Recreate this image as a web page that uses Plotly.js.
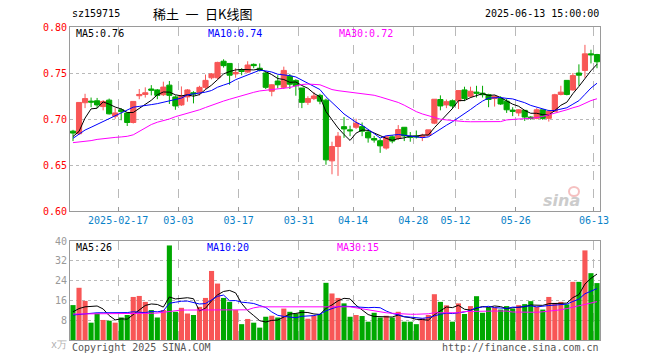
<!DOCTYPE html>
<html>
<head>
<meta charset="utf-8">
<script src="https://cdn.plot.ly/plotly-3.0.1.min.js"></script>
<style>html,body{margin:0;padding:0;background:#fff;}#chart{width:660px;height:360px;}</style>
</head>
<body>
<div id="chart"></div>
<script>
// ---- data ----
var dateLabels = ['2025-02-17','03-03','03-17','03-31','04-14','04-28','05-12','05-26','06-13'];
var dateLabelIdx = [8, 18, 28, 38, 47, 57, 64, 74, 87];

var openP = [0.6868,0.6840,0.7177,0.7194,0.7198,0.7135,0.7205,0.7031,0.7100,0.7066,
  0.6962,0.7253,0.7267,0.7326,0.7316,0.7264,0.7368,0.7240,0.7153,0.7240,
  0.7285,0.7285,0.7344,0.7448,0.7448,0.7628,0.7604,0.7490,0.7531,0.7510,
  0.7594,0.7552,0.7500,0.7302,0.7413,0.7344,0.7465,0.7420,0.7337,0.7181,
  0.7222,0.7257,0.7205,0.6545,0.6701,0.6917,0.6882,0.6910,0.6917,0.6858,
  0.6788,0.6764,0.6684,0.6806,0.6788,0.6910,0.6813,0.6816,0.6802,0.6823,
  0.6955,0.7212,0.7153,0.7198,0.7198,0.7316,0.7247,0.7292,0.7281,0.7264,
  0.7222,0.7222,0.7194,0.7097,0.7066,0.7094,0.7021,0.7007,0.7100,0.7007,
  0.7083,0.7267,0.7420,0.7316,0.7500,0.7528,0.7708,0.7701];
var highP = [0.6882,0.7180,0.7274,0.7233,0.7229,0.7205,0.7222,0.7118,0.7118,0.7073,
  0.7191,0.7326,0.7344,0.7368,0.7326,0.7406,0.7413,0.7257,0.7354,0.7326,
  0.7302,0.7361,0.7483,0.7500,0.7622,0.7649,0.7604,0.7552,0.7552,0.7628,
  0.7604,0.7604,0.7510,0.7378,0.7476,0.7569,0.7490,0.7431,0.7337,0.7247,
  0.7292,0.7274,0.7222,0.6753,0.6858,0.7021,0.6927,0.7003,0.6962,0.6882,
  0.6816,0.6788,0.6816,0.6823,0.6934,0.6910,0.6858,0.6875,0.6840,0.6882,
  0.7215,0.7257,0.7212,0.7212,0.7309,0.7351,0.7351,0.7361,0.7361,0.7274,
  0.7257,0.7247,0.7222,0.7128,0.7108,0.7094,0.7031,0.7118,0.7100,0.7100,
  0.7274,0.7361,0.7420,0.7500,0.7594,0.7806,0.7753,0.7708];
var lowP = [0.6760,0.6830,0.7118,0.7128,0.7118,0.7094,0.7049,0.7003,0.6986,0.6924,
  0.6951,0.7215,0.7233,0.7257,0.7215,0.7250,0.7163,0.7100,0.7142,0.7188,
  0.7170,0.7257,0.7326,0.7431,0.7431,0.7559,0.7372,0.7448,0.7476,0.7500,
  0.7552,0.7517,0.7326,0.7247,0.7333,0.7326,0.7326,0.7253,0.7118,0.7153,
  0.7205,0.7160,0.6503,0.6399,0.6382,0.6795,0.6813,0.6892,0.6813,0.6743,
  0.6743,0.6632,0.6667,0.6736,0.6771,0.6760,0.6753,0.6788,0.6760,0.6816,
  0.6944,0.7094,0.7118,0.7108,0.7108,0.7194,0.7229,0.7233,0.7233,0.7128,
  0.7135,0.7153,0.7066,0.7031,0.7031,0.6979,0.6990,0.6997,0.6990,0.6972,
  0.7076,0.7257,0.7257,0.7309,0.7361,0.7448,0.7604,0.7552];
var closeP = [0.6847,0.7180,0.7222,0.7184,0.7153,0.7191,0.7056,0.7066,0.7080,0.6962,
  0.7191,0.7267,0.7285,0.7313,0.7257,0.7347,0.7257,0.7142,0.7253,0.7316,
  0.7271,0.7344,0.7420,0.7490,0.7615,0.7580,0.7476,0.7507,0.7517,0.7587,
  0.7580,0.7531,0.7344,0.7372,0.7372,0.7528,0.7378,0.7361,0.7181,0.7222,
  0.7250,0.7194,0.6556,0.6701,0.6813,0.6892,0.6872,0.6955,0.6868,0.6795,
  0.6771,0.6708,0.6806,0.6760,0.6885,0.6816,0.6802,0.6806,0.6823,0.6882,
  0.7215,0.7142,0.7188,0.7142,0.7309,0.7222,0.7302,0.7281,0.7264,0.7212,
  0.7247,0.7163,0.7100,0.7083,0.7100,0.7021,0.7007,0.7100,0.7007,0.7083,
  0.7264,0.7292,0.7267,0.7472,0.7476,0.7708,0.7698,0.7622];
var volume = [14.1,21.1,15.8,7.0,10.7,8.1,7.8,7.0,9.1,10.1,
  17.4,17.8,15.4,12.1,9.1,12.1,38.2,11.4,13.0,10.7,
  10.1,13.4,17.0,27.9,22.8,17.0,15.4,12.1,6.4,8.5,
  7.0,5.0,9.4,9.8,9.1,12.7,11.4,10.7,12.1,8.6,
  9.8,10.5,23.1,18.8,17.0,14.8,9.4,10.1,9.7,7.4,
  11.0,9.1,9.8,9.1,11.4,7.4,7.4,6.4,8.7,10.1,
  18.5,15.4,14.0,7.4,14.8,10.5,13.7,17.7,11.0,13.2,
  13.2,12.3,13.7,12.7,14.1,14.5,15.7,13.4,12.3,17.4,
  15.0,15.4,14.4,23.5,23.5,36.2,27.0,23.0];

// MA30 lines (history before the first day is not shown)
var ma30P = [0.6743,0.6748,0.6755,0.6765,0.6778,0.6788,0.6795,0.6800,0.6805,0.6812,
  0.6828,0.6865,0.6905,0.6940,0.6965,0.6980,0.7000,0.7025,0.7042,0.7058,
  0.7078,0.7100,0.7125,0.7150,0.7172,0.7195,0.7215,0.7235,0.7255,0.7272,
  0.7290,0.7305,0.7312,0.7318,0.7322,0.7328,0.7342,0.7360,0.7375,0.7380,
  0.7380,0.7372,0.7346,0.7320,0.7308,0.7300,0.7290,0.7282,0.7278,0.7272,
  0.7258,0.7240,0.7222,0.7200,0.7180,0.7150,0.7115,0.7080,0.7055,0.7035,
  0.7010,0.6998,0.6990,0.6982,0.6978,0.6972,0.6970,0.6969,0.6969,0.6969,
  0.6970,0.6972,0.6990,0.6998,0.7000,0.7003,0.7007,0.7015,0.7028,0.7045,
  0.7066,0.7083,0.7100,0.7122,0.7140,0.7170,0.7200,0.7220];
var ma30V = [10.5,10.5,10.6,10.6,10.6,10.6,10.6,10.6,10.6,10.7,
  10.7,10.7,10.8,10.8,10.9,11.2,11.8,12.0,12.1,12.1,
  12.1,12.1,12.1,12.1,12.1,12.1,12.1,12.2,12.2,12.2,
  13.0,13.4,13.4,13.4,13.4,13.4,13.4,13.4,13.4,13.4,
  13.4,13.4,13.4,13.4,13.4,13.4,13.4,13.0,12.6,12.1,
  11.6,11.2,11.0,10.8,10.6,10.5,10.4,10.4,10.4,10.6,
  11.0,11.0,11.0,11.0,11.0,11.5,11.6,11.7,11.7,11.7,
  11.7,11.7,11.7,11.3,11.2,11.2,11.2,11.2,11.4,11.6,
  11.8,12.2,12.7,13.2,13.7,14.2,14.9,15.5];
// first values of the short MAs (need days before the chart)
var ma5PHead = [0.6810,0.6865,0.7010,0.7110];
var ma10PHead = [0.6790,0.6840,0.6880,0.6910,0.6940,0.6970,0.7000,0.7030,0.7060];
var ma5VHead = [11.4,12.7,13.4,13.7];
var ma10VHead = [10.1,10.4,10.7,10.9,11.0,11.0,11.0,11.0,11.0];

// ---- derived ----
function rolling(arr, n, head) {
  var out = [];
  for (var i = 0; i < arr.length; i++) {
    if (i < n - 1) { out.push(head[i]); continue; }
    var s = 0;
    for (var k = i - n + 1; k <= i; k++) s += arr[k];
    out.push(s / n);
  }
  return out;
}
var idx = closeP.map(function (_, i) { return i; });
var ma5P = rolling(closeP, 5, ma5PHead);
var ma10P = rolling(closeP, 10, ma10PHead);
var ma5V = rolling(volume, 5, ma5VHead);
var ma10V = rolling(volume, 10, ma10VHead);

var RED = '#f85656', GREEN = '#00a800';
var volColors = closeP.map(function (c, i) { return c >= openP[i] ? RED : GREEN; });

var MONO = 'DejaVu Sans Mono, monospace';
var traces = [
  {type: 'candlestick', x: idx, open: openP, high: highP, low: lowP, close: closeP,
   xaxis: 'x', yaxis: 'y', whiskerwidth: 0,
   increasing: {line: {color: RED, width: 1}, fillcolor: RED},
   decreasing: {line: {color: GREEN, width: 1}, fillcolor: GREEN},
   hoverinfo: 'skip'},
  {type: 'scatter', mode: 'lines', x: idx, y: ma5P, xaxis: 'x', yaxis: 'y', line: {color: '#000000', width: 1}},
  {type: 'scatter', mode: 'lines', x: idx, y: ma10P, xaxis: 'x', yaxis: 'y', line: {color: '#0000ff', width: 1}},
  {type: 'scatter', mode: 'lines', x: idx, y: ma30P, xaxis: 'x', yaxis: 'y', line: {color: '#ff00ff', width: 1}},
  {type: 'bar', x: idx, y: volume, xaxis: 'x2', yaxis: 'y2', marker: {color: volColors, line: {width: 0}}},
  {type: 'scatter', mode: 'lines', x: idx, y: ma5V, xaxis: 'x2', yaxis: 'y2', line: {color: '#000000', width: 1}},
  {type: 'scatter', mode: 'lines', x: idx, y: ma10V, xaxis: 'x2', yaxis: 'y2', line: {color: '#0000ff', width: 1}},
  {type: 'scatter', mode: 'lines', x: idx, y: ma30V, xaxis: 'x2', yaxis: 'y2', line: {color: '#ff00ff', width: 1}}
];

// pixel -> paper helper for texts
var L = 70, R = 600, T = 27, B = 340;
function px(x) { return (x - L) / (R - L); }
function py(y) { return (B - y) / (B - T); }
function txt(text, x, y, anchor, color, size, family) {
  return {text: text, xref: 'paper', yref: 'paper', x: px(x), y: py(y), xanchor: anchor, yanchor: 'middle',
          showarrow: false, font: {family: family || MONO, size: size || 10, color: color}};
}

var tickVals = dateLabelIdx.map(function (v) { return v - 0.5; });
var gridCol = '#b9b9b9', frameCol = '#9a9a9a';
var layout = {
  width: 660, height: 360,
  margin: {l: L, r: 660 - R, t: T, b: 360 - B, pad: 0},
  paper_bgcolor: '#ffffff', plot_bgcolor: '#ffffff',
  showlegend: false, hovermode: false,
  boxgap: 0.1, boxgroupgap: 0.05, bargap: 0.15,
  xaxis: {domain: [0, 1], anchor: 'y', range: [-0.5, 87.5], rangeslider: {visible: false},
          tickmode: 'array', tickvals: tickVals, ticktext: dateLabels,
          tickfont: {family: MONO, size: 10, color: '#0a82c8'},
          showgrid: true, gridcolor: gridCol, griddash: 'dash', gridwidth: 1,
          showline: true, mirror: true, linecolor: frameCol, linewidth: 1,
          ticks: 'inside', ticklen: 4, tickcolor: frameCol, zeroline: false, fixedrange: true},
  yaxis: {domain: [(B - 211) / (B - T), 1], anchor: 'x', range: [0.6, 0.8],
          tickmode: 'array', tickvals: [0.6, 0.65, 0.7, 0.75, 0.8], ticktext: ['0.60', '0.65', '0.70', '0.75', '0.80'],
          tickfont: {family: MONO, size: 10, color: '#ff0000'},
          showgrid: true, gridcolor: gridCol, griddash: 'dot', gridwidth: 1,
          showline: true, mirror: true, linecolor: frameCol, linewidth: 1,
          ticks: '', zeroline: false, fixedrange: true},
  xaxis2: {domain: [0, 1], anchor: 'y2', matches: 'x', range: [-0.5, 87.5],
           tickmode: 'array', tickvals: tickVals, showticklabels: false,
           showgrid: true, gridcolor: gridCol, griddash: 'dash', gridwidth: 1,
           showline: true, mirror: true, linecolor: frameCol, linewidth: 1,
           ticks: '', zeroline: false, fixedrange: true},
  yaxis2: {domain: [0, (B - 241) / (B - T)], anchor: 'x2', range: [0, 40],
           tickmode: 'array', tickvals: [8, 16, 24, 32, 40], ticktext: ['8', '16', '24', '32', '40'],
           tickfont: {family: MONO, size: 10, color: '#999999'},
           showgrid: true, gridcolor: gridCol, griddash: 'dot', gridwidth: 1,
           showline: true, mirror: true, linecolor: frameCol, linewidth: 1,
           ticks: '', zeroline: false, fixedrange: true},
  annotations: [
    txt('sz159715', 70, 13, 'left', '#000000', 10),
    txt('稀土\u2002一\u2002日K线图', 151, 13, 'left', '#000000', 13, 'Noto Sans CJK SC'),
    txt('2025-06-13 15:00:00', 601, 13, 'right', '#000000', 10),
    txt('MA5:0.76', 74, 33, 'left', '#000000', 10),
    txt('MA10:0.74', 206, 33, 'left', '#0000ff', 10),
    txt('MA30:0.72', 337, 33, 'left', '#ff00ff', 10),
    txt('MA5:26', 74, 247, 'left', '#000000', 10),
    txt('MA10:20', 205, 247, 'left', '#0000ff', 10),
    txt('MA30:15', 335, 247, 'left', '#ff00ff', 10),
    txt('x万', 49, 344, 'left', '#b0b0b0', 10),
    txt('Copyright 2025 SINA.COM', 70, 348, 'left', '#555555', 10),
    txt('http://finance.sina.com.cn', 601, 348, 'right', '#555555', 10),
    txt('<b><i>sina</i></b>', 582, 200, 'middle', '#cccccc', 16, 'DejaVu Sans')
  ],
  shapes: [
    {type: 'circle', xref: 'paper', yref: 'paper', x0: px(569), x1: px(579), y0: py(196), y1: py(187),
     line: {color: 'rgba(235,130,130,0.5)', width: 2}, fillcolor: 'rgba(0,0,0,0)'}
  ]
};

Plotly.newPlot('chart', traces, layout, {staticPlot: true, displayModeBar: false});
</script>
</body>
</html>
